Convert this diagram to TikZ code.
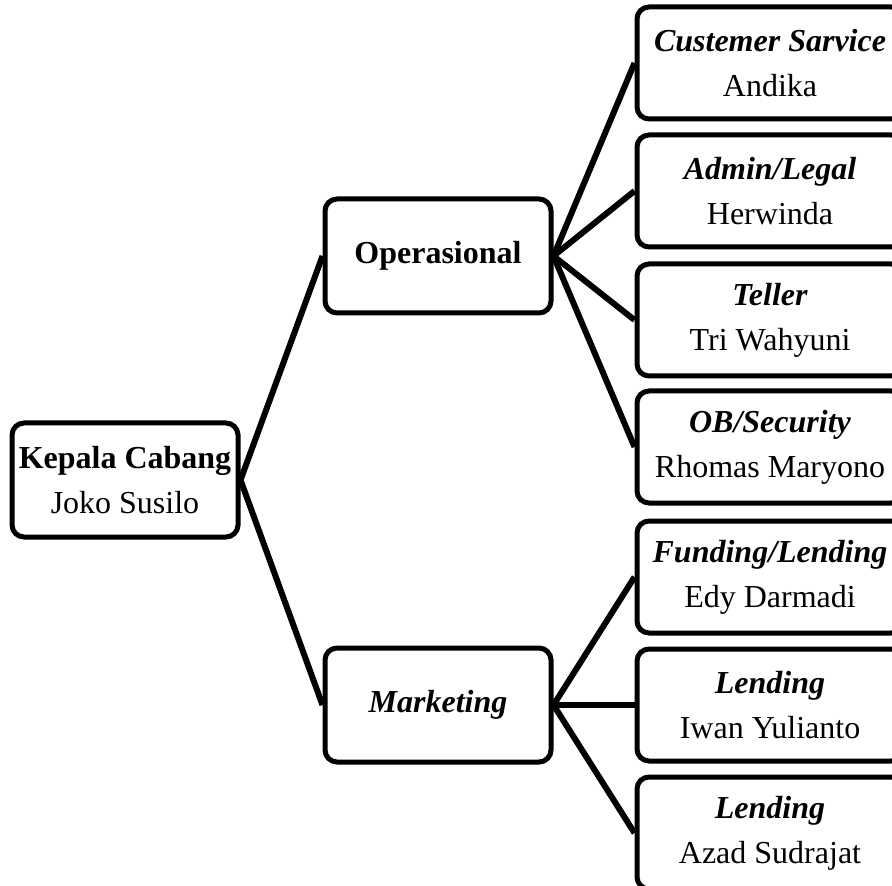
\documentclass[tikz,border=0pt]{standalone}
\usepackage{fontspec}
\setmainfont{Liberation Serif}
\usepackage{tikz}
\tikzset{
  unit/.style    ={rectangle,draw,line width=2.5pt,rounded corners=6pt,fill=white,
                   align=center,inner sep=0pt,font=\fontsize{16}{22.5}\selectfont},
  head/.style    ={unit,minimum width=113pt,minimum height=57pt},
  staff/.style   ={unit,minimum width=133pt,minimum height=56pt},
  link/.style    ={line width=3pt,black},
}
\newcommand{\jab}[1]{\textbf{\textit{#1}}}

\begin{document}
\begin{tikzpicture}[x=0.5pt,y=-0.5pt]
  \clip (0,0) rectangle (892,886);
  \fill[white] (0,0) rectangle (892,886);
  % branch head and the two divisions
  \node[head] (kc)  at (125,480) {\textbf{Kepala Cabang}\\Joko Susilo};
  \node[head] (ops) at (438,256) {\textbf{Operasional}};
  \node[head] (mkt) at (438,705) {\jab{Marketing}};
  % operasional staff
  \node[staff] (cs)   at (770,63)  {\jab{Custemer Sarvice}\\Andika};
  \node[staff] (adm)  at (770,191) {\jab{Admin/Legal}\\Herwinda};
  \node[staff] (tel)  at (770,320) {\jab{Teller}\\Tri Wahyuni};
  \node[staff] (ob)   at (770,447) {\jab{OB/Security}\\Rhomas Maryono};
  % marketing staff
  \node[staff] (fund) at (770,577) {\jab{Funding/Lending}\\Edy Darmadi};
  \node[staff] (len1) at (770,705) {\jab{Lending}\\Iwan Yulianto};
  \node[staff] (len2) at (770,833) {\jab{Lending}\\Azad Sudrajat};
  % connectors
  \draw[link] (kc.east) -- (ops.west);
  \draw[link] (kc.east) -- (mkt.west);
  \draw[link] (ops.east) -- (cs.west);
  \draw[link] (ops.east) -- (adm.west);
  \draw[link] (ops.east) -- (tel.west);
  \draw[link] (ops.east) -- (ob.west);
  \draw[link] (mkt.east) -- (fund.west);
  \draw[link] (mkt.east) -- (len1.west);
  \draw[link] (mkt.east) -- (len2.west);
\end{tikzpicture}
\end{document}
